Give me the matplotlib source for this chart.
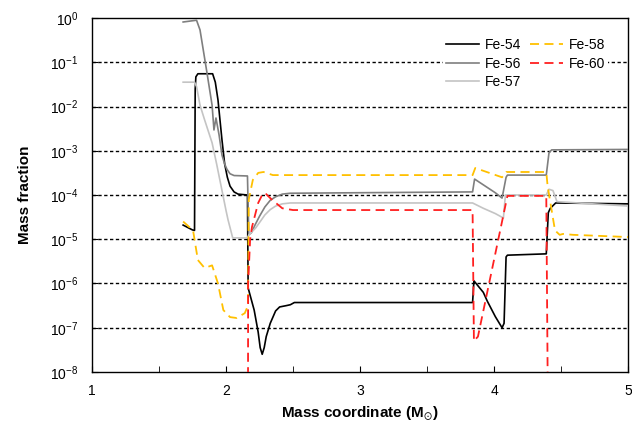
import matplotlib
matplotlib.use("Agg")
import matplotlib.pyplot as plt
import numpy as np

plt.rcParams['font.family'] = ['Liberation Sans', 'DejaVu Sans']
plt.rcParams['mathtext.default'] = 'regular'

# Massenkoordinate und log10(Massenanteil)
fe54_x = [1.68, 1.75, 1.765, 1.77, 1.775, 1.79, 1.90, 1.92, 1.94, 1.97, 1.99, 2.01, 2.03, 2.06, 2.09, 2.16,
          2.165, 2.21, 2.24, 2.255, 2.27, 2.285, 2.30, 2.33, 2.37, 2.40, 2.45, 2.48, 2.51, 3.84,
          3.85, 3.92, 3.95, 4.01, 4.06, 4.075, 4.09, 4.10, 4.39, 4.405, 4.42, 4.46, 5.0]
fe54_logy = [-4.68, -4.79, -4.80, -1.60, -1.33, -1.26, -1.26, -1.45, -1.85, -2.76, -3.30, -3.60, -3.80, -3.93, -3.98, -4.00,
             -6.10, -6.60, -7.10, -7.45, -7.60, -7.45, -7.20, -6.90, -6.62, -6.53, -6.50, -6.48, -6.43, -6.43,
             -5.94, -6.20, -6.40, -6.75, -7.00, -6.90, -5.40, -5.36, -5.33, -4.40, -4.30, -4.18, -4.20]

fe56_x = [1.68, 1.78, 1.806, 1.858, 1.896, 1.91, 1.925, 1.948, 1.97, 1.99, 2.007, 2.03, 2.06, 2.16,
          2.17, 2.19, 2.216, 2.25, 2.29, 2.33, 2.37, 2.42, 2.48, 3.84, 3.855, 3.92, 4.01, 4.06, 4.09, 4.10,
          4.39, 4.41, 4.43, 5.0]
fe56_logy = [-0.09, -0.05, -0.27, -1.24, -1.97, -2.53, -2.26, -2.64, -3.10, -3.30, -3.42, -3.52, -3.56, -3.57,
             -4.90, -4.85, -4.68, -4.48, -4.27, -4.12, -4.04, -3.98, -3.96, -3.93, -3.64, -3.77, -3.95, -4.07, -3.60, -3.55,
             -3.55, -3.05, -2.98, -2.97]

fe57_x = [1.68, 1.765, 1.78, 1.806, 1.84, 1.896, 1.93, 1.97, 2.00, 2.015, 2.05, 2.16, 2.17, 2.22,
          2.26, 2.29, 2.33, 2.37, 2.42, 2.48, 3.84, 3.92, 4.01, 4.07, 4.085, 4.39, 4.41, 4.44, 4.47, 5.0]
fe57_logy = [-1.45, -1.45, -1.55, -1.97, -2.30, -2.82, -3.30, -3.90, -4.35, -4.56, -4.97, -4.97, -4.90, -4.75,
             -4.58, -4.45, -4.33, -4.25, -4.20, -4.18, -4.18, -4.30, -4.42, -4.52, -4.00, -4.00, -3.87, -3.90, -4.15, -4.25]

fe58_x = [1.68, 1.754, 1.79, 1.84, 1.896, 1.94, 1.98, 2.03, 2.08, 2.14, 2.164, 2.17,
          2.20, 2.24, 2.28, 2.35, 3.84, 3.86, 4.06, 4.09, 4.39, 4.40, 4.455, 4.49,
          4.515, 4.59, 5.0]
fe58_logy = [-4.60, -4.80, -5.47, -5.65, -5.59, -6.00, -6.60, -6.76, -6.78, -6.67, -6.50, -4.10,
             -3.66, -3.50, -3.48, -3.55, -3.55, -3.39, -3.60, -3.48, -3.48, -3.80, -4.80, -4.90,
             -4.88, -4.90, -4.95]

fe60_x = [2.163, 2.165, 2.18, 2.194, 2.24, 2.276, 2.30, 2.34, 2.42, 2.5, 3.84, 3.85, 3.88,
          4.10, 4.39, 4.41]
fe60_logy = [-12.0, -6.0, -5.0, -4.72, -4.18, -3.96, -3.98, -4.10, -4.30, -4.34, -4.34, -7.30, -7.20,
             -4.02, -4.02, -12.0]

series = [
    ("Fe-54", fe54_x, fe54_logy, "black", "-"),
    ("Fe-56", fe56_x, fe56_logy, "#7f7f7f", "-"),
    ("Fe-57", fe57_x, fe57_logy, "#c4c4c4", "-"),
    ("Fe-58", fe58_x, fe58_logy, "#ffc000", "--"),
    ("Fe-60", fe60_x, fe60_logy, "#ff2020", "--"),
]

fig = plt.figure(figsize=(6.32, 4.33), dpi=100)
ax = fig.add_axes([0.1456, 0.1409, 0.8481, 0.8175])

# gestrichelte Gitterlinien pro Dekade
for k in range(-7, 0):
    ax.axhline(10.0 ** k, color="black", lw=1.0, dashes=(2.4, 1.8), zorder=1)

for name, xs, ly, col, ls in series:
    ys = 10.0 ** np.array(ly)
    if ls == "--":
        ax.plot(xs, ys, color=col, lw=1.3, dashes=(5, 3), label=name, zorder=3)
    else:
        ax.plot(xs, ys, color=col, lw=1.2, label=name, zorder=3)

ax.set_yscale("log")
ax.set_xlim(1, 5)
ax.set_ylim(1e-8, 1)
ax.set_xticks([1, 2, 3, 4, 5])
ax.set_xticks([1.5, 2.5, 3.5, 4.5], minor=True)
ax.set_yticks([10.0 ** k for k in range(-8, 1)])
ax.set_yticklabels([f"10$^{{{k}}}$" for k in range(-8, 1)])
ax.yaxis.set_minor_locator(matplotlib.ticker.NullLocator())
ax.tick_params(axis="both", which="both", direction="in", labelsize=10)
ax.tick_params(axis="x", which="both", length=4, pad=9)
ax.tick_params(axis="y", length=4, pad=10)
for s in ax.spines.values():
    s.set_linewidth(1.0)

ax.set_ylabel("Mass fraction", fontsize=11, fontweight="bold", labelpad=13)
ax.set_xlabel(r"Mass coordinate (M$_{\odot}$)", fontsize=11, fontweight="bold", labelpad=4)

leg = ax.legend(ncol=2, loc="upper right", bbox_to_anchor=(0.975, 0.97), frameon=True,
                edgecolor="none", facecolor="white", framealpha=1, fontsize=10,
                handlelength=2.4, columnspacing=0.6, handletextpad=0.4,
                labelspacing=0.3, borderpad=0.2, fancybox=False)

fig.savefig("out.png", dpi=100)
